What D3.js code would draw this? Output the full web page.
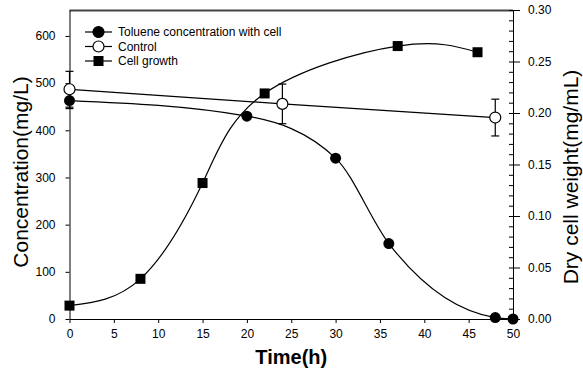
<!DOCTYPE html>
<html>
<head>
<meta charset="utf-8">
<script src="https://cdn.jsdelivr.net/npm/d3@7"></script>
<style>
  body { margin: 0; background: #fff; }
  text { font-family: "Liberation Sans", Arial, sans-serif; fill: #000; }
</style>
</head>
<body>
<script>
// toluene with cells (left axis, mg/L)
const tolTime = [0, 20, 30, 36, 48, 50];
const tolValues = [463, 430, 341, 160, 3, 0];
const tolErr = [17, 0, 0, 0, 0, 0];

// control (left axis, mg/L)
const ctrlTime = [0, 24, 48];
const ctrlValues = [487, 456, 427];
const ctrlErr = [38, 42, 39];

// cell growth (right axis, mg/mL)
const cellTime = [0, 8, 15, 22, 37, 46];
const cellValues = [0.013, 0.039, 0.132, 0.219, 0.265, 0.259];

const xTicks = [0, 5, 10, 15, 20, 25, 30, 35, 40, 45, 50];
const yLeftTicks = [0, 100, 200, 300, 400, 500, 600];
const yRightTicks = [0, 0.05, 0.10, 0.15, 0.20, 0.25, 0.30];
const yRightMinor = d3.range(0, 31).map(d => d / 100);
const legendLabels = ["Toluene concentration with cell", "Control", "Cell growth"];

const width = 583, height = 378;
const plotLeft = 69.5, plotRight = 513, plotTop = 10, plotBottom = 319;

const svg = d3.select("body").append("svg")
    .attr("width", width)
    .attr("height", height);

const x = d3.scaleLinear().domain([0, 50]).range([plotLeft, plotRight]);
const yL = d3.scaleLinear().domain([0, 655]).range([plotBottom, plotTop]);
const yR = d3.scaleLinear().domain([0, 0.30]).range([plotBottom, plotTop]);

// top frame line
svg.append("line")
    .attr("x1", plotLeft).attr("x2", plotRight)
    .attr("y1", plotTop + 0.5).attr("y2", plotTop + 0.5)
    .attr("stroke", "#444").attr("stroke-width", 2);

// axes
svg.append("g")
    .attr("transform", "translate(0," + plotBottom + ")")
    .call(d3.axisBottom(x).tickValues(xTicks).tickSize(4).tickPadding(6).tickSizeOuter(0));

svg.append("g")
    .attr("transform", "translate(" + plotLeft + ",0)")
    .call(d3.axisLeft(yL).tickValues(yLeftTicks).tickSize(4).tickPadding(10).tickSizeOuter(0));

svg.append("g")
    .attr("transform", "translate(" + plotRight + ",0)")
    .call(d3.axisLeft(yR).tickValues(yRightMinor).tickSize(4).tickFormat("").tickSizeOuter(0))
    .select(".domain").remove();

svg.append("g")
    .attr("transform", "translate(" + plotRight + ",0)")
    .call(d3.axisRight(yR).tickValues(yRightTicks).tickSize(7).tickPadding(8)
        .tickFormat(d3.format(".2f")).tickSizeOuter(0));

svg.selectAll(".tick text").attr("font-size", 12).attr("font-family", "Liberation Sans, Arial, sans-serif");
svg.selectAll(".domain").attr("stroke", "#000");

// axis titles
svg.append("text")
    .attr("x", (plotLeft + plotRight) / 2)
    .attr("y", 364)
    .attr("text-anchor", "middle")
    .attr("font-size", 20)
    .attr("font-weight", "bold")
    .text("Time(h)");

svg.append("text")
    .attr("transform", "translate(28,172) rotate(-90)")
    .attr("text-anchor", "middle")
    .attr("font-size", 21)
    .text("Concentration(mg/L)");

svg.append("text")
    .attr("transform", "translate(578,177) rotate(-90)")
    .attr("text-anchor", "middle")
    .attr("font-size", 21)
    .text("Dry cell weight(mg/mL)");

// lines
const lineTol = d3.line().x(d => x(d[0])).y(d => yL(d[1])).curve(d3.curveMonotoneX);
const lineCtrl = d3.line().x(d => x(d[0])).y(d => yL(d[1])).curve(d3.curveMonotoneX);
const lineCell = d3.line().x(d => x(d[0])).y(d => yR(d[1])).curve(d3.curveNatural);

const tolData = tolTime.map((t, i) => [t, tolValues[i], tolErr[i]]);
const ctrlData = ctrlTime.map((t, i) => [t, ctrlValues[i], ctrlErr[i]]);
const cellData = cellTime.map((t, i) => [t, cellValues[i]]);

svg.append("path").attr("d", lineCtrl(ctrlData)).attr("fill", "none").attr("stroke", "#000").attr("stroke-width", 1.2);
svg.append("path").attr("d", lineTol(tolData)).attr("fill", "none").attr("stroke", "#000").attr("stroke-width", 1.2);
svg.append("path").attr("d", lineCell(cellData)).attr("fill", "none").attr("stroke", "#000").attr("stroke-width", 1.2);

// error bars
const errBars = (data) => {
    const g = svg.append("g").selectAll("g")
        .data(data.filter(d => d[2] > 0))
        .enter().append("g").attr("stroke", "#000").attr("stroke-width", 1.2);
    g.append("line")
        .attr("x1", d => x(d[0])).attr("x2", d => x(d[0]))
        .attr("y1", d => yL(d[1] - d[2])).attr("y2", d => yL(d[1] + d[2]));
    g.append("line")
        .attr("x1", d => x(d[0]) - 4).attr("x2", d => x(d[0]) + 4)
        .attr("y1", d => yL(d[1] - d[2])).attr("y2", d => yL(d[1] - d[2]));
    g.append("line")
        .attr("x1", d => x(d[0]) - 4).attr("x2", d => x(d[0]) + 4)
        .attr("y1", d => yL(d[1] + d[2])).attr("y2", d => yL(d[1] + d[2]));
};
errBars(ctrlData);
errBars(tolData);

// markers
svg.append("g").selectAll("circle")
    .data(ctrlData).enter().append("circle")
    .attr("cx", d => x(d[0])).attr("cy", d => yL(d[1])).attr("r", 5.5)
    .attr("fill", "#fff").attr("stroke", "#000").attr("stroke-width", 1.2);

svg.append("g").selectAll("circle")
    .data(tolData).enter().append("circle")
    .attr("cx", d => x(d[0])).attr("cy", d => yL(d[1])).attr("r", 5.5)
    .attr("fill", "#000");

svg.append("g").selectAll("rect")
    .data(cellData).enter().append("rect")
    .attr("x", d => x(d[0]) - 5).attr("y", d => yR(d[1]) - 5)
    .attr("width", 10).attr("height", 10)
    .attr("fill", "#000");

// legend
const legend = svg.append("g").selectAll("g")
    .data(legendLabels).enter().append("g")
    .attr("transform", (d, i) => "translate(85," + (32 + i * 14.5) + ")");
legend.append("line").attr("x1", 0).attr("x2", 27).attr("stroke", "#000").attr("stroke-width", 1.2);
legend.filter((d, i) => i < 2).append("circle")
    .attr("cx", 13.5).attr("r", 5.5)
    .attr("fill", (d, i) => i === 0 ? "#000" : "#fff")
    .attr("stroke", "#000").attr("stroke-width", 1.2);
legend.filter((d, i) => i === 2).append("rect")
    .attr("x", 8.5).attr("y", -5).attr("width", 10).attr("height", 10).attr("fill", "#000");
legend.append("text")
    .attr("x", 33).attr("dy", "0.35em")
    .attr("font-size", 12)
    .text(d => d);
</script>
</body>
</html>
